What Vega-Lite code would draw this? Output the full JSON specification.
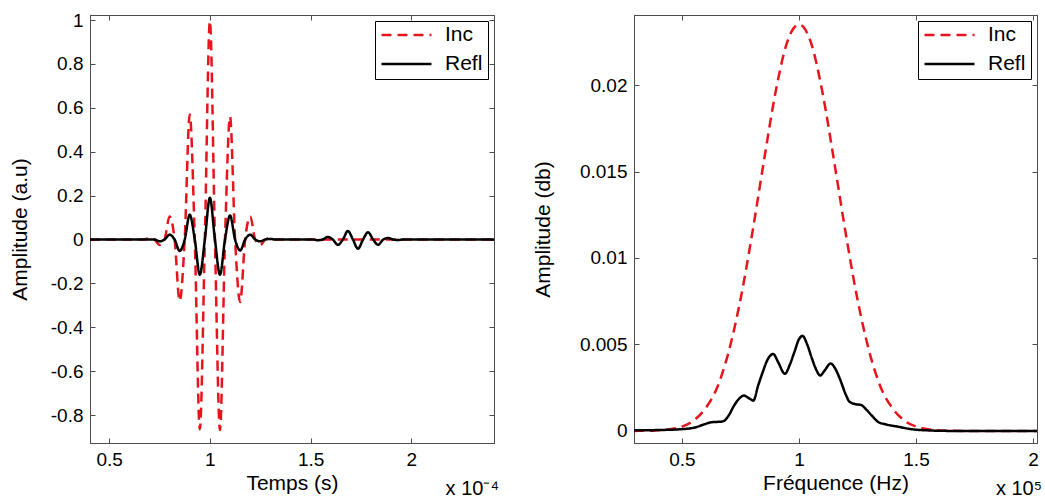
{
  "$schema": "https://vega.github.io/schema/vega-lite/v6.json",
  "padding": {"left": 8, "top": 10, "right": 0, "bottom": 0},
  "background": "white",
  "spacing": 140,
  "bounds": "flush",
  "datasets": {
    "time": [
      {"t": 0.405, "amp": 0, "series": "Inc"},
      {"t": 0.675, "amp": 0, "series": "Inc"},
      {"t": 0.7, "amp": 0.008, "series": "Inc"},
      {"t": 0.725, "amp": 0, "series": "Inc"},
      {"t": 0.75, "amp": -0.025, "series": "Inc"},
      {"t": 0.775, "amp": 0, "series": "Inc"},
      {"t": 0.8, "amp": 0.105, "series": "Inc"},
      {"t": 0.825, "amp": 0, "series": "Inc"},
      {"t": 0.85, "amp": -0.28, "series": "Inc"},
      {"t": 0.875, "amp": 0, "series": "Inc"},
      {"t": 0.9, "amp": 0.57, "series": "Inc"},
      {"t": 0.925, "amp": 0, "series": "Inc"},
      {"t": 0.95, "amp": -0.865, "series": "Inc"},
      {"t": 0.975, "amp": 0, "series": "Inc"},
      {"t": 1.0, "amp": 0.995, "series": "Inc"},
      {"t": 1.025, "amp": 0, "series": "Inc"},
      {"t": 1.05, "amp": -0.868, "series": "Inc"},
      {"t": 1.075, "amp": 0, "series": "Inc"},
      {"t": 1.1, "amp": 0.56, "series": "Inc"},
      {"t": 1.125, "amp": 0, "series": "Inc"},
      {"t": 1.15, "amp": -0.285, "series": "Inc"},
      {"t": 1.175, "amp": 0, "series": "Inc"},
      {"t": 1.2, "amp": 0.105, "series": "Inc"},
      {"t": 1.225, "amp": 0, "series": "Inc"},
      {"t": 1.25, "amp": -0.025, "series": "Inc"},
      {"t": 1.275, "amp": 0, "series": "Inc"},
      {"t": 1.3, "amp": 0.008, "series": "Inc"},
      {"t": 1.325, "amp": 0, "series": "Inc"},
      {"t": 2.41, "amp": 0, "series": "Inc"},
      {"t": 0.405, "amp": 0, "series": "Refl"},
      {"t": 0.725, "amp": 0, "series": "Refl"},
      {"t": 0.75, "amp": -0.008, "series": "Refl"},
      {"t": 0.775, "amp": 0, "series": "Refl"},
      {"t": 0.8, "amp": 0.022, "series": "Refl"},
      {"t": 0.825, "amp": 0, "series": "Refl"},
      {"t": 0.85, "amp": -0.052, "series": "Refl"},
      {"t": 0.875, "amp": 0, "series": "Refl"},
      {"t": 0.9, "amp": 0.113, "series": "Refl"},
      {"t": 0.925, "amp": 0, "series": "Refl"},
      {"t": 0.95, "amp": -0.16, "series": "Refl"},
      {"t": 0.975, "amp": 0, "series": "Refl"},
      {"t": 1.0, "amp": 0.19, "series": "Refl"},
      {"t": 1.025, "amp": 0, "series": "Refl"},
      {"t": 1.05, "amp": -0.16, "series": "Refl"},
      {"t": 1.075, "amp": 0, "series": "Refl"},
      {"t": 1.1, "amp": 0.11, "series": "Refl"},
      {"t": 1.125, "amp": 0, "series": "Refl"},
      {"t": 1.15, "amp": -0.05, "series": "Refl"},
      {"t": 1.175, "amp": 0, "series": "Refl"},
      {"t": 1.2, "amp": 0.022, "series": "Refl"},
      {"t": 1.225, "amp": 0, "series": "Refl"},
      {"t": 1.25, "amp": -0.008, "series": "Refl"},
      {"t": 1.275, "amp": 0, "series": "Refl"},
      {"t": 1.3, "amp": 0.003, "series": "Refl"},
      {"t": 1.325, "amp": 0, "series": "Refl"},
      {"t": 1.51, "amp": 0, "series": "Refl"},
      {"t": 1.535, "amp": -0.003, "series": "Refl"},
      {"t": 1.56, "amp": 0, "series": "Refl"},
      {"t": 1.585, "amp": 0.012, "series": "Refl"},
      {"t": 1.61, "amp": 0, "series": "Refl"},
      {"t": 1.635, "amp": -0.024, "series": "Refl"},
      {"t": 1.66, "amp": 0, "series": "Refl"},
      {"t": 1.685, "amp": 0.039, "series": "Refl"},
      {"t": 1.71, "amp": 0, "series": "Refl"},
      {"t": 1.735, "amp": -0.042, "series": "Refl"},
      {"t": 1.76, "amp": 0, "series": "Refl"},
      {"t": 1.785, "amp": 0.033, "series": "Refl"},
      {"t": 1.81, "amp": 0, "series": "Refl"},
      {"t": 1.835, "amp": -0.024, "series": "Refl"},
      {"t": 1.86, "amp": 0, "series": "Refl"},
      {"t": 1.885, "amp": 0.007, "series": "Refl"},
      {"t": 1.91, "amp": 0, "series": "Refl"},
      {"t": 1.935, "amp": -0.002, "series": "Refl"},
      {"t": 1.96, "amp": 0, "series": "Refl"},
      {"t": 2.41, "amp": 0, "series": "Refl"}
    ],
    "freq": [
      {"f": 0.295, "amp": 0, "series": "Inc"},
      {"f": 0.35, "amp": 0.00001, "series": "Inc"},
      {"f": 0.4, "amp": 0.00003, "series": "Inc"},
      {"f": 0.45, "amp": 0.0001, "series": "Inc"},
      {"f": 0.5, "amp": 0.00025, "series": "Inc"},
      {"f": 0.55, "amp": 0.0006, "series": "Inc"},
      {"f": 0.6, "amp": 0.0013, "series": "Inc"},
      {"f": 0.65, "amp": 0.0025, "series": "Inc"},
      {"f": 0.7, "amp": 0.0046, "series": "Inc"},
      {"f": 0.75, "amp": 0.0076, "series": "Inc"},
      {"f": 0.8, "amp": 0.0114, "series": "Inc"},
      {"f": 0.85, "amp": 0.0156, "series": "Inc"},
      {"f": 0.9, "amp": 0.0196, "series": "Inc"},
      {"f": 0.95, "amp": 0.0225, "series": "Inc"},
      {"f": 1.0, "amp": 0.0235, "series": "Inc"},
      {"f": 1.05, "amp": 0.0225, "series": "Inc"},
      {"f": 1.1, "amp": 0.0196, "series": "Inc"},
      {"f": 1.15, "amp": 0.0156, "series": "Inc"},
      {"f": 1.2, "amp": 0.0114, "series": "Inc"},
      {"f": 1.25, "amp": 0.0076, "series": "Inc"},
      {"f": 1.3, "amp": 0.0046, "series": "Inc"},
      {"f": 1.35, "amp": 0.0025, "series": "Inc"},
      {"f": 1.4, "amp": 0.0013, "series": "Inc"},
      {"f": 1.45, "amp": 0.0006, "series": "Inc"},
      {"f": 1.5, "amp": 0.00025, "series": "Inc"},
      {"f": 1.55, "amp": 0.0001, "series": "Inc"},
      {"f": 1.6, "amp": 0.00003, "series": "Inc"},
      {"f": 1.65, "amp": 0.00001, "series": "Inc"},
      {"f": 1.7, "amp": 0, "series": "Inc"},
      {"f": 2.017, "amp": 0, "series": "Inc"},
      {"f": 0.295, "amp": 0.00003, "series": "Refl"},
      {"f": 0.4, "amp": 0.00005, "series": "Refl"},
      {"f": 0.5, "amp": 0.0001, "series": "Refl"},
      {"f": 0.55, "amp": 0.00018, "series": "Refl"},
      {"f": 0.6, "amp": 0.0004, "series": "Refl"},
      {"f": 0.625, "amp": 0.0005, "series": "Refl"},
      {"f": 0.65, "amp": 0.00052, "series": "Refl"},
      {"f": 0.675, "amp": 0.00055, "series": "Refl"},
      {"f": 0.7, "amp": 0.0009, "series": "Refl"},
      {"f": 0.72, "amp": 0.0014, "series": "Refl"},
      {"f": 0.74, "amp": 0.0018, "series": "Refl"},
      {"f": 0.765, "amp": 0.00204, "series": "Refl"},
      {"f": 0.785, "amp": 0.0019, "series": "Refl"},
      {"f": 0.805, "amp": 0.00175, "series": "Refl"},
      {"f": 0.825, "amp": 0.0026, "series": "Refl"},
      {"f": 0.845, "amp": 0.0034, "series": "Refl"},
      {"f": 0.865, "amp": 0.0041, "series": "Refl"},
      {"f": 0.89, "amp": 0.00445, "series": "Refl"},
      {"f": 0.91, "amp": 0.004, "series": "Refl"},
      {"f": 0.94, "amp": 0.0033, "series": "Refl"},
      {"f": 0.96, "amp": 0.0038, "series": "Refl"},
      {"f": 0.98, "amp": 0.00455, "series": "Refl"},
      {"f": 1.0, "amp": 0.0053, "series": "Refl"},
      {"f": 1.015, "amp": 0.0055, "series": "Refl"},
      {"f": 1.035, "amp": 0.005, "series": "Refl"},
      {"f": 1.055, "amp": 0.0042, "series": "Refl"},
      {"f": 1.075, "amp": 0.0035, "series": "Refl"},
      {"f": 1.09, "amp": 0.0032, "series": "Refl"},
      {"f": 1.11, "amp": 0.0035, "series": "Refl"},
      {"f": 1.135, "amp": 0.0039, "series": "Refl"},
      {"f": 1.155, "amp": 0.0036, "series": "Refl"},
      {"f": 1.175, "amp": 0.003, "series": "Refl"},
      {"f": 1.2, "amp": 0.0021, "series": "Refl"},
      {"f": 1.215, "amp": 0.0017, "series": "Refl"},
      {"f": 1.24, "amp": 0.00155, "series": "Refl"},
      {"f": 1.265, "amp": 0.0015, "series": "Refl"},
      {"f": 1.29, "amp": 0.0012, "series": "Refl"},
      {"f": 1.31, "amp": 0.0009, "series": "Refl"},
      {"f": 1.34, "amp": 0.0005, "series": "Refl"},
      {"f": 1.37, "amp": 0.00038, "series": "Refl"},
      {"f": 1.42, "amp": 0.00025, "series": "Refl"},
      {"f": 1.48, "amp": 0.0001, "series": "Refl"},
      {"f": 1.55, "amp": 0.00003, "series": "Refl"},
      {"f": 1.65, "amp": 0, "series": "Refl"},
      {"f": 2.017, "amp": 0, "series": "Refl"}
    ]
  },
  "hconcat": [
    {
      "width": 404,
      "height": 428,
      "data": {"name": "time"},
      "title": {"text": "x 10⁻⁴", "orient": "bottom", "anchor": "end", "offset": -14, "fontSize": 20, "fontWeight": "normal"},
      "layer": [
        {
          "mark": {"type": "line", "strokeWidth": 2.5, "interpolate": "monotone"},
          "encoding": {
            "x": {"field": "t", "type": "quantitative", "scale": {"domain": [0.405, 2.41], "nice": false, "zero": false},
                  "axis": {"title": "Temps (s)", "values": [0.5, 1, 1.5, 2], "format": "~g", "labelFlush": false, "titlePadding": 3}},
            "y": {"field": "amp", "type": "quantitative", "scale": {"domain": [-0.927, 1.023], "nice": false, "zero": false},
                  "axis": {"title": "Amplitude (a.u)", "values": [-0.8, -0.6, -0.4, -0.2, 0, 0.2, 0.4, 0.6, 0.8, 1], "format": ".1~f",
                           "labelExpr": "replace(datum.label, '−', '-')", "minExtent": 50, "maxExtent": 50, "titlePadding": 10}},
            "color": {"field": "series", "type": "nominal", "scale": {"domain": ["Inc", "Refl"], "range": ["#e8141c", "#000000"]}, "legend": {"title": null}},
            "strokeDash": {"field": "series", "type": "nominal", "scale": {"domain": ["Inc", "Refl"], "range": [[10, 6], [1, 0]]}, "legend": {"title": null}}
          }
        },
        {
          "mark": {"type": "point", "opacity": 0},
          "encoding": {
            "x": {"field": "t", "type": "quantitative", "axis": {"orient": "top", "labels": false, "title": null, "values": [0.5, 1, 1.5, 2]}},
            "y": {"field": "amp", "type": "quantitative", "axis": {"orient": "right", "labels": false, "title": null, "values": [-0.8, -0.6, -0.4, -0.2, 0, 0.2, 0.4, 0.6, 0.8, 1]}}
          }
        }
      ],
      "resolve": {"axis": {"x": "independent", "y": "independent"}}
    },
    {
      "width": 403,
      "height": 428,
      "data": {"name": "freq"},
      "title": {"text": "x 10⁵", "orient": "bottom", "anchor": "end", "offset": -14, "fontSize": 20, "fontWeight": "normal"},
      "layer": [
        {
          "mark": {"type": "line", "strokeWidth": 2.5, "interpolate": "monotone"},
          "encoding": {
            "x": {"field": "f", "type": "quantitative", "scale": {"domain": [0.295, 2.017], "nice": false, "zero": false},
                  "axis": {"title": "Fréquence (Hz)", "values": [0.5, 1, 1.5, 2], "format": "~g", "labelFlush": false, "titlePadding": 3}},
            "y": {"field": "amp", "type": "quantitative", "scale": {"domain": [-0.0007, 0.02405], "nice": false, "zero": false},
                  "axis": {"title": "Amplitude (db)", "values": [0, 0.005, 0.01, 0.015, 0.02], "format": ".3~f", "minExtent": 69, "maxExtent": 69, "titlePadding": 12}},
            "color": {"field": "series", "type": "nominal", "scale": {"domain": ["Inc", "Refl"], "range": ["#e8141c", "#000000"]}, "legend": {"title": null}},
            "strokeDash": {"field": "series", "type": "nominal", "scale": {"domain": ["Inc", "Refl"], "range": [[10, 6], [1, 0]]}, "legend": {"title": null}}
          }
        },
        {
          "mark": {"type": "point", "opacity": 0},
          "encoding": {
            "x": {"field": "f", "type": "quantitative", "axis": {"orient": "top", "labels": false, "title": null, "values": [0.5, 1, 1.5, 2]}},
            "y": {"field": "amp", "type": "quantitative", "axis": {"orient": "right", "labels": false, "title": null, "values": [0, 0.005, 0.01, 0.015, 0.02]}}
          }
        }
      ],
      "resolve": {"axis": {"x": "independent", "y": "independent"}}
    }
  ],
  "resolve": {"scale": {"color": "independent", "strokeDash": "independent"}},
  "config": {
    "font": "Liberation Sans",
    "view": {"stroke": "#4d4d4d", "strokeWidth": 1},
    "axis": {
      "grid": false,
      "domainColor": "#4d4d4d",
      "tickColor": "#4d4d4d",
      "tickSize": -5,
      "labelPadding": 12,
      "labelFontSize": 19,
      "labelColor": "#000000",
      "titleFontSize": 21,
      "titleFontWeight": "normal",
      "titleColor": "#000000",
      "labelOverlap": false
    },
    "legend": {
      "orient": "top-right",
      "offset": 6,
      "strokeColor": "#000000",
      "fillColor": "#ffffff",
      "padding": 5,
      "cornerRadius": 0,
      "labelFontSize": 21,
      "labelColor": "#000000",
      "symbolType": "stroke",
      "symbolSize": 2500,
      "symbolStrokeWidth": 2.5,
      "clipHeight": 18,
      "rowPadding": 8,
      "labelOffset": 12
    }
  }
}
